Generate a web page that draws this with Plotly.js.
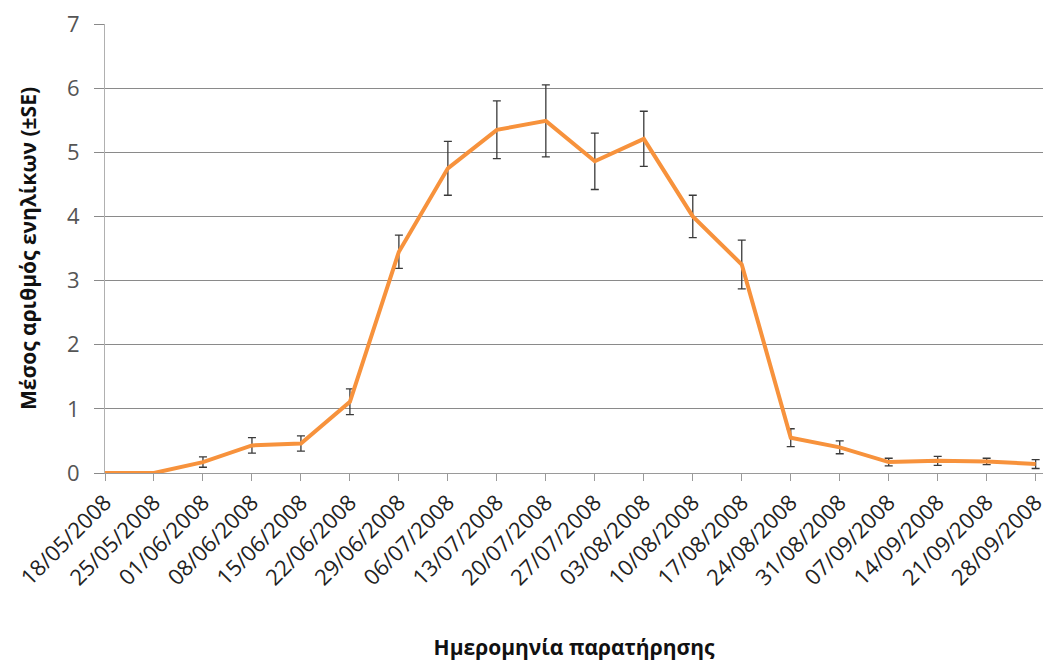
<!DOCTYPE html>
<html>
<head>
<meta charset="utf-8">
<script src="https://cdn.plot.ly/plotly-3.0.1.min.js"></script>
<style>html,body{margin:0;padding:0;background:#fff;}#chart{width:1050px;height:664px;}</style>
</head>
<body>
<div id="chart"></div>
<script>
const dates = ["18/05/2008","25/05/2008","01/06/2008","08/06/2008","15/06/2008","22/06/2008","29/06/2008","06/07/2008","13/07/2008","20/07/2008","27/07/2008","03/08/2008","10/08/2008","17/08/2008","24/08/2008","31/08/2008","07/09/2008","14/09/2008","21/09/2008","28/09/2008"];
const meanAdults = [0, 0, 0.17, 0.43, 0.46, 1.11, 3.45, 4.75, 5.35, 5.49, 4.86, 5.21, 4.0, 3.25, 0.55, 0.40, 0.17, 0.19, 0.18, 0.14];
const seAdults = [0, 0, 0.08, 0.12, 0.12, 0.2, 0.26, 0.42, 0.45, 0.56, 0.44, 0.43, 0.33, 0.38, 0.14, 0.1, 0.06, 0.07, 0.05, 0.07];
const yTitle = "Μέσος αριθμός ενηλίκων (±SE)";
const xTitle = "Ημερομηνία παρατήρησης";

const trace = {
  x: dates,
  y: meanAdults,
  type: "scatter",
  mode: "lines",
  line: {color: "#F7923C", width: 4},
  error_y: {type: "data", array: seAdults, visible: true, color: "#3a3a3a", thickness: 1.3, width: 4},
  hoverinfo: "x+y"
};

const layout = {
  width: 1050, height: 664,
  margin: {l: 105, r: 7, t: 24, b: 191},
  paper_bgcolor: "#ffffff", plot_bgcolor: "#ffffff",
  showlegend: false,
  font: {family: "Open Sans, sans-serif", color: "#404040"},
  xaxis: {
    type: "category",
    range: [0, 19.15],
    tickangle: -45,
    tickfont: {size: 22, color: "#222"},
    ticks: "outside", ticklen: 7, tickcolor: "#9a9a9a",
    showgrid: false, zeroline: false,
    showline: true, linecolor: "#9a9a9a", linewidth: 1,
    title: {text: "<b>" + xTitle + "</b>", font: {size: 21, color: "#111"}, standoff: 50}
  },
  yaxis: {
    range: [0, 7],
    dtick: 1,
    tickfont: {size: 22, color: "#555"},
    ticks: "outside", ticklen: 10, tickcolor: "#8a8a8a",
    ticklabelstandoff: 10,
    showgrid: true, gridcolor: "#8a8a8a", gridwidth: 1,
    zeroline: false,
    showline: true, linecolor: "#b0b0b0", linewidth: 1,
    title: {text: "<b>" + yTitle + "</b>", font: {size: 21, color: "#111"}, standoff: 24}
  }
};

Plotly.newPlot("chart", [trace], layout, {displayModeBar: false, staticPlot: true});
</script>
</body>
</html>
